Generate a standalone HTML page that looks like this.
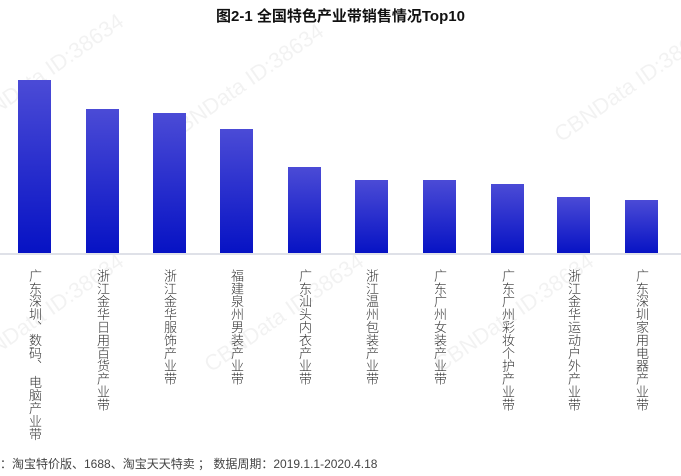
<!DOCTYPE html>
<html><head><meta charset="utf-8"><style>
body{margin:0;width:681px;height:476px;background:#fff;position:relative;overflow:hidden;font-family:"Liberation Sans","Noto Sans CJK SC",sans-serif}
.t{position:absolute;left:0;width:681px;top:5px;text-align:center;font-weight:bold;font-size:15px;color:#111}
.b{position:absolute;width:33px;bottom:222px;background:linear-gradient(#4b4bd6,#0612c4)}
.ax{position:absolute;left:0;width:681px;top:253px;height:2px;background:#dfe1e8}
.l{position:absolute;top:269px;writing-mode:vertical-rl;font-size:13px;line-height:14px;color:#333;letter-spacing:-0.1px;font-weight:300}
.f{position:absolute;left:0px;top:455px;font-size:12px;color:#444;white-space:nowrap}
.w{position:absolute;font-size:22px;color:rgba(0,0,0,0.05);transform:rotate(-35deg);white-space:nowrap}
</style></head><body>
<div class="t">图2-1 全国特色产业带销售情况Top10</div>
<div class="w" style="left:-50px;top:60px">CBNData ID:38634</div>
<div class="w" style="left:150px;top:70px">CBNData ID:38634</div>
<div class="w" style="left:540px;top:70px">CBNData ID:38634</div>
<div class="w" style="left:-50px;top:300px">CBNData ID:38634</div>
<div class="w" style="left:190px;top:300px">CBNData ID:38634</div>
<div class="w" style="left:420px;top:300px">CBNData ID:38634</div>
<div class="b" style="left:18px;top:80px"></div>
<div class="b" style="left:86px;top:109px"></div>
<div class="b" style="left:153px;top:113px"></div>
<div class="b" style="left:220px;top:129px"></div>
<div class="b" style="left:288px;top:167px"></div>
<div class="b" style="left:355px;top:180px"></div>
<div class="b" style="left:423px;top:180px"></div>
<div class="b" style="left:491px;top:184px"></div>
<div class="b" style="left:557px;top:197px"></div>
<div class="b" style="left:625px;top:200px"></div>
<div class="ax"></div>
<div class="l" style="left:27px">广东深圳、数码、 电脑产业带</div>
<div class="l" style="left:95px">浙江金华日用百货产业带</div>
<div class="l" style="left:162px">浙江金华服饰产业带</div>
<div class="l" style="left:229px">福建泉州男装产业带</div>
<div class="l" style="left:297px">广东汕头内衣产业带</div>
<div class="l" style="left:364px">浙江温州包装产业带</div>
<div class="l" style="left:432px">广东广州女装产业带</div>
<div class="l" style="left:500px">广东广州彩妆个护产业带</div>
<div class="l" style="left:566px">浙江金华运动户外产业带</div>
<div class="l" style="left:634px">广东深圳家用电器产业带</div>
<div class="f">：淘宝特价版、1688、淘宝天天特卖 ； 数据周期：2019.1.1-2020.4.18</div>
</body></html>
